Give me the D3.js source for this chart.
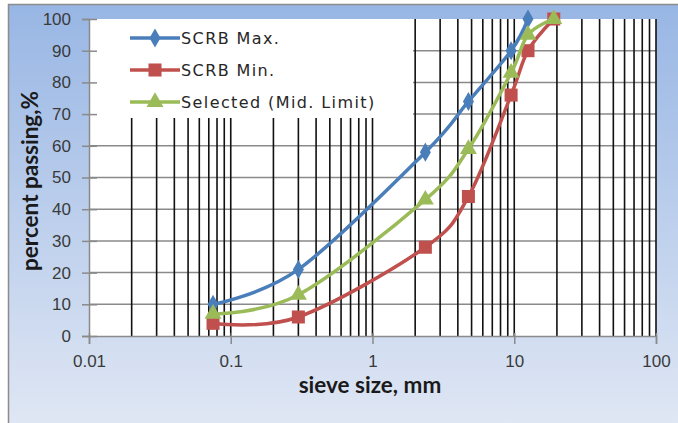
<!DOCTYPE html>
<html>
<head>
<meta charset="utf-8">
<script src="https://cdn.jsdelivr.net/npm/d3@7"></script>
<style>
  body { margin: 0; background: #fff; }
</style>
</head>
<body>
<div id="wrapper"></div>
<script>
const width = 678
const height = 423

// sieve sizes (mm) and percent passing
const sieveSizes = [0.075, 0.3, 2.36, 4.75, 9.5, 12.5, 19]
const scrbMax = [10, 21, 58, 74, 90, 100]
const scrbMin = [4, 6, 28, 44, 76, 90, 100]
const selected = [7, 13, 43, 59, 83, 95, 100]
const seriesNames = ["SCRB Max.", "SCRB Min.", "Selected (Mid. Limit)"]
const xTicks = [0.01, 0.1, 1, 10, 100]
const yTicks = [0, 10, 20, 30, 40, 50, 60, 70, 80, 90, 100]

const colors = ["#4a7ebb", "#c0504d", "#9bbb59"]
const symbols = [d3.symbolDiamond, d3.symbolSquare, d3.symbolTriangle]
const symSizes = [105, 170, 125]

const svg = d3.select("#wrapper").append("svg")
    .attr("width", width)
    .attr("height", height)
    .style("font-family", "'DejaVu Sans', sans-serif")

const defs = svg.append("defs")
const grad = defs.append("linearGradient")
    .attr("id", "bg")
    .attr("x1", 0).attr("y1", 0).attr("x2", 0).attr("y2", 1)
grad.append("stop").attr("offset", "0%").attr("stop-color", "#98b6e4")
grad.append("stop").attr("offset", "100%").attr("stop-color", "#e0e7f4")

// outer chart frame
svg.append("rect")
    .attr("x", 8.5).attr("y", 4.5)
    .attr("width", width).attr("height", height)
    .attr("fill", "url(#bg)")
    .attr("stroke", "#8c8c8c")
    .attr("stroke-width", 1.5)

const x = d3.scaleLog().domain([0.01, 100]).range([89, 656])
const y = d3.scaleLinear().domain([0, 100]).range([336, 19])

// plot area
svg.append("rect")
    .attr("x", x(0.01)).attr("y", y(100))
    .attr("width", x(100) - x(0.01))
    .attr("height", y(0) - y(100))
    .attr("fill", "#fff")

// horizontal grid (gray)
svg.append("g")
    .selectAll("line")
    .data(yTicks.filter(d => d > 0 && d < 100))
    .join("line")
    .attr("x1", x(0.01)).attr("x2", x(100))
    .attr("y1", d => y(d)).attr("y2", d => y(d))
    .attr("stroke", "#8a8a8a")
    .attr("stroke-width", 1.5)

// vertical grid (black, every 1..9 of each decade)
const minor = []
for (let e = -2; e < 2; e++) {
    for (let k = 2; k <= 10; k++) minor.push(k * Math.pow(10, e))
}
svg.append("g")
    .selectAll("line")
    .data(minor)
    .join("line")
    .attr("x1", d => x(d)).attr("x2", d => x(d))
    .attr("y1", y(100)).attr("y2", y(0))
    .attr("stroke", "#111")
    .attr("stroke-width", 1.6)

// legend box (covers grid)
const legend = svg.append("g")
legend.append("rect")
    .attr("x", x(0.01)).attr("y", y(100))
    .attr("width", 324).attr("height", 99)
    .attr("fill", "#fff")

// axes
const axisColor = "#8a8a8a"
const yAxis = svg.append("g")
    .attr("transform", `translate(${x(0.01)},0)`)
    .call(d3.axisLeft(y).tickValues(yTicks).tickSize(7).tickPadding(12))
yAxis.select(".domain").attr("stroke", axisColor).attr("stroke-width", 1.5)
yAxis.selectAll(".tick line").attr("stroke", axisColor).attr("stroke-width", 1.5).attr("x2", -7).attr("x1", 8)
yAxis.selectAll(".tick text").attr("fill", "#3a3a3a").style("font-size", "17px").attr("x", -18)

const xAxis = svg.append("g")
    .attr("transform", `translate(0,${y(0)})`)
    .call(d3.axisBottom(x).tickValues(xTicks).tickFormat(d => String(d)).tickSize(8).tickPadding(11))
xAxis.select(".domain").attr("stroke", axisColor).attr("stroke-width", 1.5)
xAxis.selectAll(".tick line").attr("stroke", axisColor).attr("stroke-width", 1.5).attr("y1", -3)
xAxis.selectAll(".tick text").attr("fill", "#3a3a3a").style("font-size", "17px")

// series
const series = [scrbMax, scrbMin, selected].map((vals, i) => ({
    name: seriesNames[i],
    points: vals.map((v, j) => [sieveSizes[j], v])
}))

const line = d3.line()
    .x(d => x(d[0]))
    .y(d => y(d[1]))
    .curve(d3.curveCatmullRom.alpha(0))

series.forEach((s, i) => {
    const g = svg.append("g")
    g.append("path")
        .attr("d", line(s.points))
        .attr("fill", "none")
        .attr("stroke", colors[i])
        .attr("stroke-width", 3.5)
    g.selectAll("path.mark")
        .data(s.points)
        .join("path")
        .attr("class", "mark")
        .attr("transform", d => `translate(${x(d[0])},${y(d[1])})`)
        .attr("d", d3.symbol(symbols[i], symSizes[i]))
        .attr("fill", colors[i])
})

// legend entries
const items = legend.selectAll("g.item")
    .data(seriesNames)
    .join("g")
    .attr("class", "item")
    .attr("transform", (d, i) => `translate(130,${38 + i * 32})`)
items.append("line")
    .attr("x1", 0).attr("x2", 50)
    .attr("stroke", (d, i) => colors[i])
    .attr("stroke-width", 3.5)
items.append("path")
    .attr("transform", "translate(25,0)")
    .attr("d", (d, i) => d3.symbol(symbols[i], symSizes[i])())
    .attr("fill", (d, i) => colors[i])
items.append("text")
    .attr("x", 51)
    .attr("dy", "0.35em")
    .attr("fill", "#262626")
    .style("font-size", "16px")
    .style("letter-spacing", "1.4px")
    .text(d => d)

// axis titles
svg.append("text")
    .attr("transform", "translate(38,181) rotate(-90)")
    .attr("text-anchor", "middle")
    .attr("fill", "#1a1a1a")
    .style("font-family", "Lato, sans-serif")
    .style("font-weight", "bold")
    .style("font-size", "22.5px")
    .text("percent passing,%")

svg.append("text")
    .attr("x", 370).attr("y", 393)
    .attr("text-anchor", "middle")
    .attr("fill", "#1a1a1a")
    .style("font-family", "Lato, sans-serif")
    .style("font-weight", "bold")
    .style("font-size", "22.5px")
    .text("sieve size, mm")
</script>
</body>
</html>
